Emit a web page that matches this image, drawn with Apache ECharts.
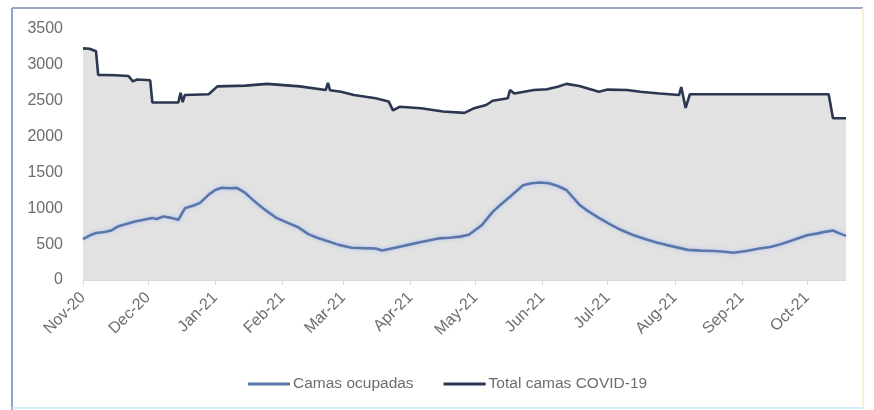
<!DOCTYPE html>
<html>
<head>
<meta charset="utf-8">
<script src="https://cdn.jsdelivr.net/npm/echarts@6/dist/echarts.min.js"></script>
<style>
  html, body { margin: 0; padding: 0; background: #ffffff; }
  #chart { width: 874px; height: 410px; }
</style>
</head>
<body>
<div id="chart"></div>
<script>
// Series names
const seriesNames = ['Camas ocupadas', 'Total camas COVID-19'];

// Occupied beds (dates and values)
const occDates = [
  '2020-11-01','2020-11-04','2020-11-07','2020-11-11','2020-11-14','2020-11-17','2020-11-21','2020-11-25',
  '2020-11-29','2020-12-03','2020-12-05','2020-12-08','2020-12-11','2020-12-15','2020-12-18','2020-12-22',
  '2020-12-25','2020-12-29','2021-01-01','2021-01-04','2021-01-08','2021-01-11','2021-01-15','2021-01-19',
  '2021-01-23','2021-01-29','2021-02-04','2021-02-08','2021-02-13','2021-02-17','2021-02-22','2021-02-27',
  '2021-03-05','2021-03-10','2021-03-16','2021-03-19','2021-03-25','2021-03-31','2021-04-06','2021-04-14',
  '2021-04-19','2021-04-24','2021-04-28','2021-05-04','2021-05-09','2021-05-13','2021-05-17','2021-05-23',
  '2021-05-27','2021-05-31','2021-06-04','2021-06-08','2021-06-12','2021-06-18','2021-06-22','2021-06-27',
  '2021-07-02','2021-07-07','2021-07-13','2021-07-19','2021-07-24','2021-07-28','2021-08-02','2021-08-07',
  '2021-08-13','2021-08-19','2021-08-24','2021-08-28','2021-09-03','2021-09-09','2021-09-14','2021-09-18',
  '2021-09-24','2021-10-01','2021-10-06','2021-10-10','2021-10-13','2021-10-16','2021-10-19'
];
const occValues = [
  570, 620, 655, 670, 690, 745, 780, 815,
  840, 865, 850, 885, 870, 840, 1000, 1040,
  1075, 1190, 1255, 1285, 1280, 1285, 1210, 1100,
  1000, 870, 790, 740, 640, 590, 540, 490,
  450, 445, 440, 410, 450, 490, 530, 580,
  590, 605, 630, 765, 950, 1060, 1160, 1320,
  1350, 1360, 1350, 1310, 1255, 1050, 960, 865,
  780, 700, 625, 565, 520, 490, 455, 420,
  410, 405, 395, 380, 405, 440, 460, 490,
  550, 625, 650, 675, 690, 650, 615
];

// Total COVID-19 beds (dates and values)
const totalDates = [
  '2020-11-01','2020-11-04','2020-11-07','2020-11-08','2020-11-16','2020-11-22','2020-11-24','2020-11-26',
  '2020-12-02','2020-12-03','2020-12-15','2020-12-16','2020-12-17','2020-12-18','2020-12-29','2021-01-02',
  '2021-01-15','2021-01-25','2021-02-09','2021-02-21','2021-02-22','2021-02-23','2021-02-28','2021-03-06',
  '2021-03-16','2021-03-22','2021-03-24','2021-03-27','2021-04-06','2021-04-16','2021-04-26','2021-04-30',
  '2021-05-06','2021-05-09','2021-05-16','2021-05-17','2021-05-19','2021-05-28','2021-06-03','2021-06-08',
  '2021-06-12','2021-06-18','2021-06-27','2021-07-01','2021-07-10','2021-07-16','2021-07-25','2021-08-03',
  '2021-08-04','2021-08-06','2021-08-08','2021-10-11','2021-10-13','2021-10-19'
];
const totalValues = [
  3230, 3225, 3190, 2860, 2855, 2845, 2770, 2795,
  2785, 2475, 2475, 2610, 2480, 2580, 2590, 2700,
  2710, 2735, 2700, 2650, 2750, 2645, 2625, 2580,
  2535, 2490, 2365, 2415, 2395, 2350, 2330, 2390,
  2440, 2500, 2535, 2650, 2600, 2650, 2660, 2695,
  2735, 2705, 2625, 2655, 2650, 2625, 2600, 2580,
  2690, 2400, 2590, 2590, 2255, 2255
];

// Y axis ticks
const yMin = 0, yMax = 3500, yStep = 500;
const monthNames = ['Jan','Feb','Mar','Apr','May','Jun','Jul','Aug','Sep','Oct','Nov','Dec'];

const zip = (d, v) => d.map((x, i) => [x, v[i]]);

const chart = echarts.init(document.getElementById('chart'));
chart.setOption({
  backgroundColor: '#ffffff',
  animation: false,
  textStyle: { fontFamily: 'Liberation Sans, Arial, sans-serif' },
  grid: { left: 83, right: 28, top: 29, bottom: 130 },
  legend: {
    left: 243,
    top: 371,
    itemGap: 30,
    itemWidth: 42,
    itemHeight: 3,
    icon: 'rect',
    textStyle: { color: '#6d6d6d', fontSize: 15.5, padding: [0, 0, 0, -2] },
    data: [
      { name: seriesNames[0], itemStyle: { color: '#5a76ab' } },
      { name: seriesNames[1], itemStyle: { color: '#2b3650' } }
    ]
  },
  xAxis: {
    type: 'time',
    min: '2020-11-01',
    max: '2021-10-19',
    splitNumber: 12,
    minInterval: 28 * 86400000,
    axisLine: { show: true, lineStyle: { color: '#d9d9d9' } },
    axisTick: { show: true, length: 5, lineStyle: { color: '#d9d9d9' } },
    splitLine: { show: false },
    axisLabel: {
      rotate: 45,
      margin: 15,
      color: '#6d6d6d',
      fontSize: 16,
      showMaxLabel: false,
      formatter: function (val) {
        const d = new Date(val);
        return monthNames[d.getMonth()] + '-' + String(d.getFullYear()).slice(2);
      }
    }
  },
  yAxis: {
    type: 'value',
    min: yMin,
    max: yMax,
    interval: yStep,
    axisLine: { show: false },
    axisTick: { show: false },
    splitLine: { show: false },
    axisLabel: {
      color: '#6d6d6d',
      fontSize: 16,
      margin: 20,
      formatter: function (v) { return String(v); }
    }
  },
  series: [
    {
      name: seriesNames[1],
      type: 'line',
      data: zip(totalDates, totalValues),
      showSymbol: false,
      symbol: 'none',
      z: 2,
      lineStyle: { color: '#2b3650', width: 2.6 },
      itemStyle: { color: '#2b3650' },
      areaStyle: { color: '#e2e2e2', opacity: 1 }
    },
    {
      name: seriesNames[0],
      type: 'line',
      data: zip(occDates, occValues),
      showSymbol: false,
      symbol: 'none',
      z: 3,
      lineStyle: { color: '#5a76ab', width: 2.6, shadowColor: 'rgba(170,195,240,0.9)', shadowBlur: 4 },
      itemStyle: { color: '#5a76ab' }
    }
  ],
  graphic: [
    { type: 'line', shape: { x1: 12, y1: 8, x2: 863, y2: 8 }, style: { stroke: '#9aa6c2', lineWidth: 2 } },
    { type: 'line', shape: { x1: 12, y1: 8, x2: 12, y2: 410 }, style: { stroke: '#8aa4d6', lineWidth: 2 } },
    { type: 'line', shape: { x1: 863, y1: 8, x2: 863, y2: 408 }, style: { stroke: '#f8efd6', lineWidth: 2 } },
    { type: 'line', shape: { x1: 12, y1: 408, x2: 863, y2: 408 }, style: { stroke: '#d4ecf6', lineWidth: 2 } }
  ]
});
</script>
</body>
</html>
